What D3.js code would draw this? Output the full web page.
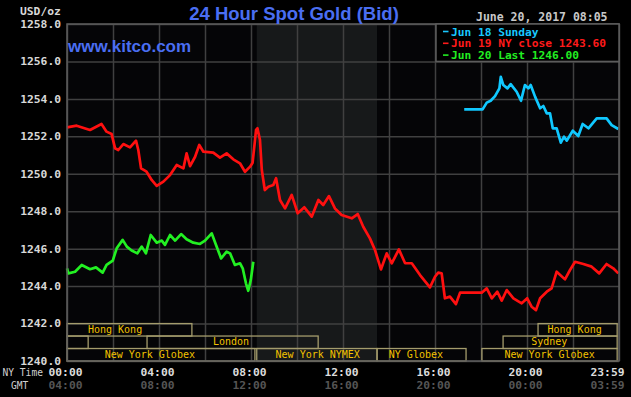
<!DOCTYPE html>
<html>
<head>
<meta charset="utf-8">
<script src="https://cdn.jsdelivr.net/npm/d3@7"></script>
<style>
  html, body { margin: 0; padding: 0; background: #000; }
  svg { display: block; }
  .mono { font-family: "DejaVu Sans Mono", "Liberation Mono", monospace; }
</style>
</head>
<body>
<svg id="chart" width="631" height="397"></svg>
<script>
// ---- data (hours NY time, USD/oz) ----
var jun18Hours = [17.27, 18.07, 18.25, 18.42, 18.61, 18.8, 18.86, 18.97, 19.15, 19.29, 19.55, 19.74, 19.91, 20.06, 20.16, 20.35, 20.57, 20.71, 20.86, 21.0, 21.12, 21.29, 21.47, 21.61, 21.73, 21.99, 22.23, 22.42, 22.67, 23.03, 23.46, 23.68, 23.97];
var jun18Prices = [1253.44, 1253.44, 1253.80, 1253.90, 1254.15, 1254.56, 1255.18, 1254.74, 1254.56, 1254.79, 1254.38, 1253.90, 1254.74, 1254.56, 1254.74, 1254.12, 1253.50, 1253.62, 1253.23, 1253.23, 1252.43, 1252.43, 1251.66, 1251.98, 1251.77, 1252.30, 1252.02, 1252.66, 1252.43, 1252.96, 1252.96, 1252.60, 1252.39];

var jun19Hours = [0, 0.42, 1.0, 1.5, 1.72, 1.94, 2.09, 2.23, 2.45, 2.74, 3.0, 3.1, 3.22, 3.46, 3.68, 3.9, 4.19, 4.48, 4.77, 5.06, 5.2, 5.35, 5.57, 5.75, 5.93, 6.36, 6.65, 6.94, 7.23, 7.52, 7.74, 7.96, 8.07, 8.22, 8.28, 8.39, 8.47, 8.6, 8.75, 8.97, 9.09, 9.26, 9.48, 9.77, 10.03, 10.32, 10.64, 10.93, 11.14, 11.39, 11.65, 11.94, 12.38, 12.64, 12.88, 13.17, 13.39, 13.65, 13.9, 14.12, 14.43, 14.7, 14.99, 15.35, 15.78, 16.0, 16.14, 16.29, 16.43, 16.65, 16.91, 17.09, 17.52, 18.03, 18.25, 18.47, 18.71, 18.9, 19.12, 19.41, 19.77, 20.01, 20.2, 20.39, 20.57, 20.86, 21.07, 21.29, 21.65, 21.87, 22.09, 22.45, 22.81, 23.14, 23.46, 23.75, 23.97];
var jun19Prices = [1252.48, 1252.57, 1252.34, 1252.66, 1252.25, 1252.12, 1251.36, 1251.27, 1251.59, 1251.41, 1251.77, 1251.27, 1250.29, 1250.11, 1249.67, 1249.35, 1249.58, 1249.93, 1250.47, 1250.29, 1251.09, 1250.41, 1250.91, 1251.54, 1251.18, 1251.13, 1250.86, 1251.09, 1250.77, 1250.56, 1250.11, 1250.38, 1250.59, 1252.34, 1252.43, 1251.80, 1250.2, 1249.13, 1249.31, 1249.40, 1249.76, 1248.60, 1248.15, 1248.87, 1247.89, 1248.21, 1247.71, 1248.60, 1248.33, 1248.81, 1248.15, 1247.80, 1247.62, 1247.85, 1247.17, 1246.55, 1245.93, 1244.89, 1245.75, 1245.22, 1245.96, 1245.22, 1245.22, 1244.59, 1243.93, 1244.5, 1244.72, 1244.68, 1243.35, 1243.44, 1243.04, 1243.65, 1243.65, 1243.65, 1243.88, 1243.35, 1243.70, 1243.22, 1243.79, 1243.35, 1243.08, 1243.35, 1242.90, 1242.72, 1243.35, 1243.70, 1243.88, 1244.77, 1244.36, 1244.86, 1245.30, 1245.18, 1245.04, 1244.68, 1245.18, 1244.95, 1244.68];

var jun20Hours = [0, 0.06, 0.35, 0.64, 1.0, 1.26, 1.55, 1.72, 1.99, 2.16, 2.42, 2.6, 2.81, 3.06, 3.25, 3.43, 3.64, 3.9, 4.12, 4.26, 4.48, 4.7, 4.96, 5.2, 5.49, 5.78, 6.0, 6.29, 6.48, 6.7, 6.94, 7.09, 7.3, 7.52, 7.64, 7.78, 7.88, 7.99, 8.1];
var jun20Prices = [1244.95, 1244.68, 1244.77, 1245.13, 1244.90, 1245.00, 1244.72, 1245.13, 1245.36, 1246.02, 1246.47, 1246.11, 1245.90, 1245.75, 1246.11, 1245.75, 1246.73, 1246.32, 1246.43, 1246.20, 1246.73, 1246.43, 1246.78, 1246.50, 1246.32, 1246.25, 1246.43, 1246.82, 1246.20, 1245.48, 1245.84, 1245.75, 1245.13, 1245.22, 1244.95, 1244.15, 1243.75, 1244.32, 1245.30];

var yTicks = [1240, 1242, 1244, 1246, 1248, 1250, 1252, 1254, 1256, 1258];
var nyTimeTicks = [0, 4, 8, 12, 16, 20];
var nyTimeLabels = ["00:00", "04:00", "08:00", "12:00", "16:00", "20:00"];
var gmtLabels = ["04:00", "08:00", "12:00", "16:00", "20:00", "00:00"];

var legendLabels = ["Jun 18 Sunday", "Jun 19 NY close 1243.60", "Jun 20 Last 1246.00"];

// trading sessions (row 0 = top row)
var sessionNames = ["Hong Kong", "Hong Kong", "", "London", "Sydney", "New York Globex", "New York NYMEX", "NY Globex", "New York Globex"];
var sessionRow = [0, 0, 1, 1, 1, 2, 2, 2, 2];
var sessionStart = [0, 20.48, 0, 3.48, 18.96, 0, 8.25, 13.48, 18.04];
var sessionEnd = [5.43, 23.92, 0.92, 10.92, 23.92, 8.17, 13.48, 17.35, 23.92];
var sessionLabelAt = [2.09, 22.07, 0, 7.13, 20.97, 3.6, 10.9, 15.17, 20.98];

var comexOpen = [8.25, 13.48];

// ---- layout ----
var svg = d3.select("#chart");
var plotL = 67, plotR = 619, plotT = 24, plotB = 361;

var x = d3.scaleLinear().domain([0, 24]).range([plotL, plotR]);
var y = d3.scaleLinear().domain([1240, 1258]).range([plotB, plotT]);

svg.append("rect").attr("width", 631).attr("height", 397).attr("fill", "#000");
svg.append("rect")
  .attr("x", plotL).attr("y", plotT)
  .attr("width", plotR - plotL).attr("height", plotB - plotT)
  .attr("fill", "#050507");

// comex shading
svg.append("rect")
  .attr("x", x(comexOpen[0])).attr("y", plotT)
  .attr("width", x(comexOpen[1]) - x(comexOpen[0]))
  .attr("height", plotB - plotT)
  .attr("fill", "#17191a");

// vertical grid every 2h
var xGrid = svg.append("g")
  .attr("transform", "translate(0," + plotB + ")")
  .call(d3.axisBottom(x).tickValues(d3.range(0, 25, 2)).tickSize(-(plotB - plotT)).tickFormat(""));
xGrid.select(".domain").remove();
xGrid.selectAll("line").attr("stroke", "#404040").attr("stroke-width", 1.5);

// y axis with grid
var yAxis = svg.append("g")
  .attr("transform", "translate(" + plotL + ",0)")
  .call(d3.axisLeft(y).tickValues(yTicks).tickSize(-(plotR - plotL)).tickPadding(6).tickFormat(d3.format(".1f")));
yAxis.select(".domain").remove();
yAxis.selectAll("line").attr("stroke", "#404040").attr("stroke-width", 1.5);
yAxis.selectAll("text")
  .attr("class", "mono")
  .attr("fill", "#d8d8d8")
  .attr("font-size", "11.3px")
  .attr("font-weight", "bold")
  .attr("dy", "0.3em");

// sessions
var rowH = (plotB - y(1242)) / 3;
var sess = svg.append("g");
sessionNames.forEach(function (name, i) {
  var y0 = y(1242) + sessionRow[i] * rowH;
  sess.append("rect")
    .attr("x", x(sessionStart[i])).attr("y", y0)
    .attr("width", x(sessionEnd[i]) - x(sessionStart[i]))
    .attr("height", rowH)
    .attr("fill", "none")
    .attr("stroke", "#a49c6c")
    .attr("stroke-width", 1.3);
  if (name) {
    sess.append("text")
      .attr("class", "mono")
      .attr("x", x(sessionLabelAt[i]))
      .attr("y", y0 + rowH - 3.3)
      .attr("text-anchor", "middle")
      .attr("fill", "#f2c200")
      .attr("font-size", "10px")
      .text(name);
  }
});

// price lines
var line = d3.line()
  .x(function (d) { return x(d[0]); })
  .y(function (d) { return y(d[1]); });

function drawSeries(hours, prices, colour) {
  svg.append("path")
    .datum(d3.zip(hours, prices))
    .attr("d", line)
    .attr("fill", "none")
    .attr("stroke", colour)
    .attr("stroke-width", 2.7)
    .attr("stroke-linejoin", "round");
}
drawSeries(jun19Hours, jun19Prices, "#ff1010");
drawSeries(jun20Hours, jun20Prices, "#22f022");
drawSeries(jun18Hours, jun18Prices, "#10c8ff");

// plot frame
svg.append("rect")
  .attr("x", plotL).attr("y", plotT)
  .attr("width", plotR - plotL).attr("height", plotB - plotT)
  .attr("fill", "none").attr("stroke", "#5c5c5c").attr("stroke-width", 1.5);

// legend box
var legendColours = ["#18c8ff", "#ff1a1a", "#22ee22"];
svg.append("rect")
  .attr("x", 436).attr("y", plotT)
  .attr("width", plotR - 436).attr("height", y(1256) - plotT)
  .attr("fill", "#000").attr("stroke", "#5c5c5c").attr("stroke-width", 1.5);
legendLabels.forEach(function (t, i) {
  var by = 35.5 + i * 11.8;
  svg.append("line")
    .attr("x1", 443).attr("x2", 448.5)
    .attr("y1", by - 4).attr("y2", by - 4)
    .attr("stroke", legendColours[i]).attr("stroke-width", 1.6);
  svg.append("text")
    .attr("class", "mono")
    .attr("x", 451).attr("y", by)
    .attr("fill", legendColours[i])
    .attr("font-size", "11.2px")
    .attr("font-weight", "bold")
    .text(t);
});

// x labels
var xLab = svg.append("g").attr("class", "mono").attr("font-weight", "bold").attr("font-size", "11.3px");
nyTimeTicks.forEach(function (h, i) {
  xLab.append("text").attr("x", x(h) - 1.5).attr("y", 375.5)
    .attr("text-anchor", "middle").attr("fill", "#dcdcdc").text(nyTimeLabels[i]);
  xLab.append("text").attr("x", x(h) - 1.5).attr("y", 389)
    .attr("text-anchor", "middle").attr("fill", "#555").text(gmtLabels[i]);
});
xLab.append("text").attr("x", 624.5).attr("y", 375.5)
  .attr("text-anchor", "end").attr("fill", "#dcdcdc").text("23:59");
xLab.append("text").attr("x", 624.5).attr("y", 389)
  .attr("text-anchor", "end").attr("fill", "#555").text("03:59");

svg.append("text").attr("class", "mono").attr("x", 2.5).attr("y", 375.5)
  .attr("fill", "#d0d0d0").attr("font-size", "9.6px").text("NY Time");
svg.append("text").attr("class", "mono").attr("x", 11).attr("y", 389)
  .attr("fill", "#d0d0d0").attr("font-size", "9.6px").text("GMT");

// header texts
svg.append("text").attr("class", "mono").attr("x", 20).attr("y", 14.5)
  .attr("fill", "#d8d8d8").attr("font-size", "11.3px").attr("font-weight", "bold").text("USD/oz");
svg.append("text").attr("class", "mono").attr("x", 476).attr("y", 20.5)
  .attr("fill", "#c8c8c8").attr("font-size", "11.5px").attr("font-weight", "bold").text("June 20, 2017 08:05");

svg.append("text")
  .attr("x", 294).attr("y", 20)
  .attr("text-anchor", "middle")
  .attr("font-family", "'Liberation Sans', Arial, sans-serif")
  .attr("font-weight", "bold")
  .attr("font-size", "18.5px")
  .attr("fill", "#4a6ef2")
  .text("24 Hour Spot Gold (Bid)");

svg.append("text")
  .attr("x", 68).attr("y", 51.7)
  .attr("font-family", "'Liberation Sans', Arial, sans-serif")
  .attr("font-weight", "bold")
  .attr("font-size", "17px")
  .attr("fill", "#4a6ef2")
  .text("www.kitco.com");
</script>
</body>
</html>
